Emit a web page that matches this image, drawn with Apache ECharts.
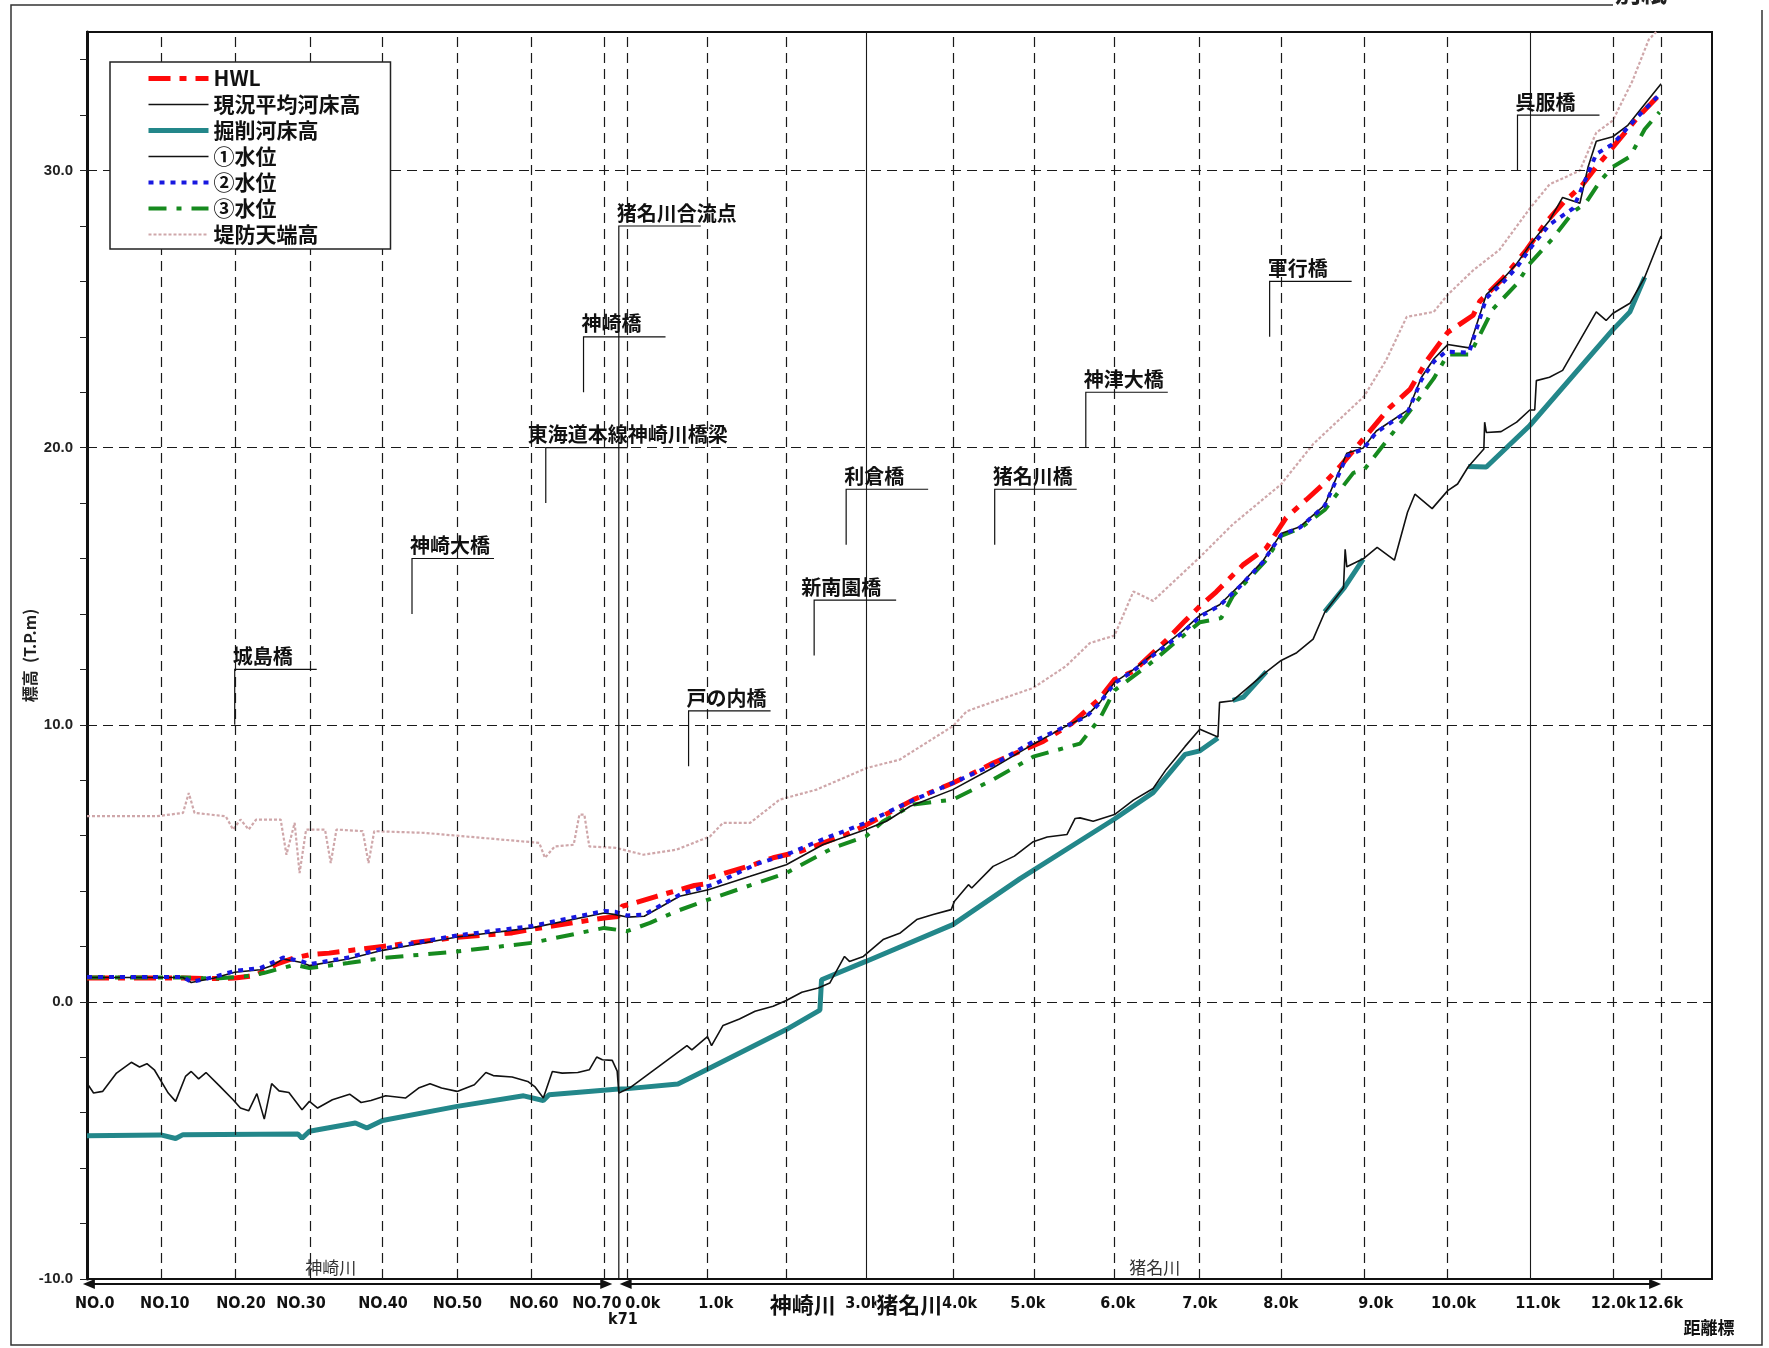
<!DOCTYPE html>
<html>
<head>
<meta charset="utf-8">
<script src="https://cdn.jsdelivr.net/npm/echarts@6/dist/echarts.min.js"></script>
<style>
  html, body { margin: 0; padding: 0; background: #fff; }
  #chart { width: 1769px; height: 1348px; }
</style>
</head>
<body>
<div id="chart"></div>
<script>
// Longitudinal profile: 神崎川 (NO.0–NO.70) joined to 猪名川 (0.0k–12.6k).
// The horizontal coordinate is a running plot distance (km) along the combined reach.

// ---- axis labels ----
const noLabels = ['NO.0', 'NO.10', 'NO.20', 'NO.30', 'NO.40', 'NO.50', 'NO.60', 'NO.70'];
const noLabelPos = [0.094, 0.948, 1.876, 2.607, 3.606, 4.513, 5.445, 6.213];
const kLabels = ['0.0k', '1.0k', '3.0k', '4.0k', '5.0k', '6.0k', '7.0k', '8.0k', '9.0k', '10.0k', '11.0k', '12.0k', '12.6k'];
const kLabelPos = [6.773, 7.662, 9.453, 10.631, 11.463, 12.559, 13.558, 14.545, 15.702, 16.652, 17.676, 18.597, 19.174];
const yLabelValues = [-10, 0, 10, 20, 30];
const yTickValues = [-10, -8, -6, -4, -2, 0, 2, 4, 6, 8, 10, 12, 14, 16, 18, 20, 22, 24, 26, 28, 30, 32, 34];

// ---- station grid lines ----
const stationDashed = [0.898, 1.808, 2.716, 3.605, 4.513, 5.409, 6.304, 6.583, 7.562, 8.521,
  10.547, 11.535, 12.523, 13.546, 14.550, 15.560, 16.584, 18.597, 19.183];
const stationSolid = [9.486, 17.587];
const levelGrid = [0, 10, 20, 30];

// ---- series (plot km, T.P.m) ----
const hwl = [[0.00,0.86],[1.17,0.86],[1.55,0.84],[1.80,0.86],[2.05,0.95],[2.30,1.35],[2.52,1.58],[2.71,1.70],[2.95,1.76],[3.60,2.00],[4.51,2.33],[5.18,2.49],[5.42,2.62],[6.30,3.03],[6.47,3.08],[6.52,3.45],[6.65,3.55],[6.94,3.81],[7.22,4.05],[7.40,4.20],[7.52,4.25],[7.57,4.47],[8.12,4.95],[8.36,5.20],[8.69,5.43],[9.25,6.04],[9.49,6.38],[10.07,7.30],[10.55,7.90],[10.72,8.14],[11.04,8.62],[11.65,9.40],[11.81,9.70],[12.00,10.05],[12.34,10.95],[12.52,11.63],[12.75,11.93],[13.15,13.05],[13.38,13.75],[13.56,14.28],[13.76,14.80],[14.09,15.78],[14.37,16.38],[14.61,17.47],[14.86,18.13],[15.06,18.67],[15.26,19.30],[15.59,20.45],[15.87,21.44],[16.12,22.10],[16.33,23.16],[16.58,24.16],[16.89,24.78],[16.97,25.28],[17.25,26.10],[17.54,27.14],[17.78,28.14],[18.00,28.88],[18.21,29.44],[18.39,30.13],[18.55,30.69],[18.88,31.87],[19.16,32.74]];

const bedNow = [[0.00,-2.93],[0.08,-3.29],[0.19,-3.23],[0.36,-2.57],[0.54,-2.18],[0.64,-2.35],[0.73,-2.23],[0.82,-2.45],[0.99,-3.29],[1.08,-3.59],[1.20,-2.69],[1.27,-2.51],[1.36,-2.78],[1.45,-2.55],[1.62,-3.05],[1.78,-3.53],[1.87,-3.83],[1.97,-3.93],[2.07,-3.31],[2.16,-4.23],[2.25,-2.95],[2.34,-3.21],[2.46,-3.27],[2.62,-3.89],[2.71,-3.59],[2.81,-3.83],[2.99,-3.53],[3.20,-3.33],[3.34,-3.63],[3.46,-3.56],[3.64,-3.39],[3.88,-3.47],[4.04,-3.11],[4.18,-2.95],[4.32,-3.11],[4.51,-3.23],[4.72,-2.99],[4.86,-2.55],[4.95,-2.66],[5.18,-2.71],[5.37,-2.87],[5.46,-3.07],[5.56,-3.47],[5.67,-2.51],[5.79,-2.57],[5.98,-2.55],[6.12,-2.45],[6.21,-1.99],[6.28,-2.09],[6.40,-2.11],[6.46,-2.50],[6.48,-3.29],[6.61,-3.11],[7.31,-1.58],[7.37,-1.73],[7.56,-1.25],[7.61,-1.58],[7.75,-0.85],[7.95,-0.62],[8.14,-0.34],[8.36,-0.16],[8.52,0.05],[8.71,0.35],[8.91,0.50],[9.05,0.68],[9.23,1.64],[9.29,1.46],[9.46,1.64],[9.70,2.25],[9.91,2.49],[10.11,2.97],[10.31,3.15],[10.53,3.33],[10.57,3.63],[10.74,4.23],[10.78,4.11],[11.04,4.89],[11.30,5.26],[11.53,5.78],[11.70,5.95],[11.94,6.04],[12.04,6.62],[12.10,6.64],[12.26,6.52],[12.52,6.76],[12.75,7.28],[12.99,7.70],[13.15,8.39],[13.38,9.22],[13.56,9.84],[13.78,9.56],[13.80,10.81],[13.96,10.87],[14.37,11.91],[14.55,12.32],[14.74,12.60],[14.94,13.09],[15.08,14.05],[15.31,14.95],[15.33,16.33],[15.35,15.70],[15.55,15.99],[15.72,16.40],[15.93,15.94],[16.09,17.67],[16.18,18.32],[16.39,17.80],[16.58,18.45],[16.70,18.69],[16.83,19.31],[17.02,19.95],[17.03,20.92],[17.05,20.55],[17.23,20.58],[17.42,20.92],[17.58,21.36],[17.64,21.36],[17.66,22.42],[17.82,22.54],[17.98,22.79],[18.39,24.90],[18.51,24.59],[18.59,24.84],[18.80,25.21],[18.98,26.15],[19.18,27.64]];

// excavation profile; null breaks the line where no excavation is planned
const bedPlan = [[0.00,-4.83],[0.90,-4.80],[1.08,-4.93],[1.17,-4.79],[2.57,-4.77],[2.62,-4.92],[2.71,-4.67],[3.27,-4.37],[3.41,-4.55],[3.60,-4.28],[4.51,-3.77],[5.32,-3.39],[5.56,-3.56],[5.63,-3.35],[6.44,-3.15],[6.59,-3.13],[7.20,-2.96],[7.56,-2.43],[8.52,-1.00],[8.93,-0.30],[8.95,0.80],[9.49,1.46],[10.55,2.79],[11.37,4.45],[12.52,6.60],[12.99,7.55],[13.38,8.93],[13.56,9.06],[13.78,9.52],[13.87,null],[13.96,10.88],[14.09,11.00],[14.37,11.92],[14.70,null],[15.08,14.08],[15.32,14.95],[15.55,15.98],[16.20,null],[16.83,19.32],[17.05,19.30],[17.58,20.80],[18.59,24.25],[18.80,24.90],[18.98,26.15]];

const wl1 = [[0.00,0.88],[1.17,0.88],[1.27,0.70],[1.55,0.86],[1.80,1.07],[2.11,1.16],[2.25,1.30],[2.39,1.55],[2.60,1.43],[2.71,1.31],[3.18,1.55],[3.60,1.86],[4.51,2.34],[5.42,2.67],[6.30,3.21],[6.44,3.15],[6.58,3.06],[6.79,3.09],[7.22,3.81],[7.57,4.05],[8.08,4.53],[8.52,4.95],[8.97,5.68],[9.49,6.22],[9.74,6.52],[10.03,7.06],[10.55,7.66],[11.04,8.45],[11.53,9.30],[11.93,9.95],[12.18,10.32],[12.34,10.80],[12.52,11.53],[12.75,11.99],[12.99,12.55],[13.34,13.36],[13.56,13.95],[13.80,14.33],[14.05,15.05],[14.33,15.92],[14.55,16.90],[14.78,17.15],[15.08,17.93],[15.18,18.61],[15.35,19.80],[15.55,19.99],[15.71,20.60],[16.10,21.37],[16.26,22.54],[16.41,23.20],[16.58,23.72],[16.84,23.60],[17.05,25.52],[17.25,26.08],[17.42,26.64],[17.60,27.39],[17.82,28.20],[17.98,29.03],[18.19,28.82],[18.29,30.13],[18.39,31.06],[18.59,31.22],[18.77,31.62],[19.18,33.13]];

const wl2 = [[0.00,0.90],[1.17,0.90],[1.27,0.72],[1.55,0.90],[1.80,1.12],[2.11,1.22],[2.39,1.60],[2.60,1.48],[2.71,1.36],[3.18,1.60],[3.60,1.92],[4.51,2.40],[5.42,2.74],[6.30,3.28],[6.44,3.25],[6.58,3.12],[6.79,3.15],[7.26,3.93],[7.63,4.23],[8.16,4.98],[8.52,5.31],[9.01,5.92],[9.49,6.46],[9.99,7.18],[10.55,7.90],[11.04,8.56],[11.53,9.40],[11.93,9.95],[12.18,10.30],[12.34,10.79],[12.52,11.50],[12.75,11.95],[12.99,12.50],[13.34,13.30],[13.56,13.90],[13.80,14.30],[14.05,15.00],[14.33,15.88],[14.55,16.85],[14.78,17.12],[15.08,17.90],[15.18,18.55],[15.35,19.70],[15.55,19.95],[15.71,20.55],[16.10,21.33],[16.26,22.45],[16.41,23.10],[16.56,23.47],[16.84,23.43],[17.05,25.40],[17.25,25.95],[17.42,26.50],[17.60,27.25],[17.82,28.05],[18.11,28.64],[18.29,29.90],[18.39,30.60],[18.59,30.95],[18.88,31.90],[19.16,32.74]];

const wl3 = [[0.00,0.88],[1.17,0.88],[1.55,0.84],[1.92,0.92],[2.15,1.04],[2.53,1.34],[2.71,1.22],[3.18,1.40],[3.60,1.58],[4.51,1.82],[5.42,2.13],[6.30,2.67],[6.58,2.55],[6.86,2.85],[7.18,3.27],[7.57,3.69],[8.52,4.65],[9.09,5.56],[9.49,5.97],[9.70,6.52],[10.07,7.12],[10.55,7.30],[11.04,8.02],[11.53,8.85],[12.10,9.32],[12.34,10.22],[12.52,11.24],[12.95,12.20],[13.35,13.20],[13.56,13.70],[13.82,13.85],[13.96,14.64],[14.37,15.95],[14.55,16.82],[14.78,17.09],[15.08,17.75],[15.43,19.09],[15.56,19.20],[16.10,21.25],[16.41,22.50],[16.58,23.36],[16.85,23.36],[17.13,25.00],[17.42,25.90],[17.58,26.64],[17.85,27.52],[18.11,28.51],[18.26,28.82],[18.44,29.63],[18.59,30.13],[18.80,30.50],[18.98,31.49],[19.16,32.11]];

const levee = [[0.00,6.70],[0.85,6.70],[1.17,6.82],[1.24,7.54],[1.31,6.82],[1.69,6.70],[1.78,6.22],[1.87,6.58],[1.97,6.22],[2.06,6.58],[2.36,6.58],[2.43,5.31],[2.53,6.46],[2.59,4.65],[2.67,6.22],[2.90,6.22],[2.97,5.01],[3.04,6.22],[3.36,6.16],[3.43,5.01],[3.50,6.16],[4.11,6.10],[5.04,5.86],[5.51,5.74],[5.58,5.20],[5.70,5.61],[5.93,5.67],[6.00,6.76],[6.06,6.76],[6.12,5.61],[6.44,5.56],[6.78,5.31],[7.18,5.49],[7.59,5.97],[7.75,6.46],[8.08,6.46],[8.44,7.30],[8.89,7.66],[9.50,8.44],[9.90,8.74],[10.55,9.95],[10.72,10.49],[11.12,10.91],[11.53,11.33],[11.93,12.12],[12.22,12.95],[12.52,13.22],[12.75,14.81],[12.99,14.47],[13.56,16.05],[13.96,17.23],[14.55,18.68],[14.94,20.13],[15.56,21.85],[15.83,23.16],[16.08,24.72],[16.41,24.90],[16.58,25.52],[16.89,26.40],[17.21,27.14],[17.58,28.63],[17.82,29.50],[18.19,30.00],[18.39,31.37],[18.59,31.80],[18.83,33.23],[19.03,34.73],[19.12,35.00]];

// ---- bridges and landmarks: name, plot km, leader level, leader foot ----
const bridgeNames = ['城島橋', '神崎大橋', '東海道本線神崎川橋梁', '神崎橋', '猪名川合流点', '戸の内橋', '新南園橋', '利倉橋', '猪名川橋', '神津大橋', '軍行橋', '呉服橋'];
const bridgeKm = [1.80, 3.96, 5.59, 6.05, 6.48, 7.33, 8.86, 9.25, 11.06, 12.17, 14.41, 17.43];
const bridgeLevel = [12.0, 16.0, 20.0, 24.0, 28.0, 10.5, 14.5, 18.5, 18.5, 22.0, 26.0, 32.0];
const bridgeFoot = [10.0, 14.0, 18.0, 22.0, -10.0, 8.5, 12.5, 16.5, 16.5, 20.0, 24.0, 30.0];

// ---- river spans drawn under the axis ----
const riverNames = ['神崎川', '猪名川'];
const riverFrom = [-0.05, 6.49];
const riverTo = [6.40, 19.18];
const riverTagAt = [2.97, 13.01];
const riverTitleAt = [8.72, 10.02];
const junctionLabel = 'k71';
const junctionAt = 6.53;

// ---------------------------------------------------------------
const JP = "'Noto Sans CJK JP','Noto Sans',sans-serif";
const NARROW = "'Liberation Sans Narrow','DejaVu Sans Condensed','Liberation Sans',sans-serif";
const LATIN = "'Liberation Sans','Arial',sans-serif";
const LEADER_LEN = 82;
const LABEL_NUDGE = { '東海道本線神崎川橋梁': -18, '新南園橋': -13 };

const xLabelPos = noLabelPos.concat(kLabelPos);
const xLabelText = noLabels.concat(kLabels);
function xLabelFor(v) {
  for (let i = 0; i < xLabelPos.length; i++) {
    if (Math.abs(xLabelPos[i] - v) < 1e-6) return xLabelText[i];
  }
  return '';
}

const gridDash = { type: [10, 6], color: '#1a1a1a', width: 1.2 };
const gridMarks = []
  .concat(stationDashed.map(v => ({ xAxis: v, lineStyle: gridDash })))
  .concat(stationSolid.map(v => ({ xAxis: v, lineStyle: { type: 'solid', color: '#1a1a1a', width: 1.1 } })))
  .concat(levelGrid.map(v => ({ yAxis: v, lineStyle: gridDash })));

function lineSeries(name, data, color, width, type, z) {
  return {
    type: 'line', name: name, data: data, z: z,
    symbol: 'none', showSymbol: false, connectNulls: false,
    lineStyle: { color: color, width: width, type: type },
    itemStyle: { color: color },
    emphasis: { disabled: true }, silent: true
  };
}

const legendNames = ['HWL', '現況平均河床高', '掘削河床高', '①水位', '②水位', '③水位', '堤防天端高'];

const option = {
  animation: false,
  backgroundColor: '#ffffff',
  grid: { left: 87, right: 57, top: 32, bottom: 69, show: true, borderColor: '#111', borderWidth: 2, backgroundColor: 'transparent' },
  legend: {
    data: legendNames, orient: 'vertical', left: 110, top: 62,
    padding: [6, 30, 4, 36], itemWidth: 60, itemHeight: 14, itemGap: 5,
    backgroundColor: '#ffffff', borderColor: '#222', borderWidth: 1.5,
    selectedMode: false, z: 20,
    itemStyle: { opacity: 0 },
    lineStyle: { width: 'inherit' },
    textStyle: { fontFamily: JP, fontSize: 21, fontWeight: 'bold', color: '#111' }
  },
  xAxis: {
    type: 'value', min: 0, max: 19.8,
    axisLine: { show: false, onZero: false },
    axisTick: { show: false },
    splitLine: { show: false },
    axisLabel: {
      customValues: xLabelPos, formatter: v => xLabelFor(v), margin: 17,
      fontFamily: NARROW, fontSize: 16, fontWeight: 'bold', color: '#111'
    }
  },
  yAxis: {
    type: 'value', min: -10, max: 35,
    name: '標高  (T.P.m)', nameLocation: 'middle', nameGap: 49, nameRotate: 90,
    nameMoveOverlap: false,
    nameTextStyle: { fontFamily: JP, fontSize: 16, fontWeight: 'bold', color: '#222' },
    axisLine: { show: true, onZero: false, lineStyle: { color: '#111', width: 3 } },
    axisTick: { show: true, customValues: yTickValues, length: 7, lineStyle: { color: '#222', width: 1 } },
    axisLabel: {
      customValues: yLabelValues, formatter: v => Number(v).toFixed(1), margin: 14,
      fontFamily: LATIN, fontSize: 15, fontWeight: 'bold', color: '#222'
    },
    splitLine: { show: false }
  },
  series: [
    {
      type: 'line', name: '_grid', data: [], z: 1, silent: true, symbol: 'none',
      markLine: { silent: true, symbol: ['none', 'none'], label: { show: false }, animation: false, data: gridMarks }
    },
    lineSeries('堤防天端高', levee, '#cfa7aa', 2.2, [3, 2], 2),
    lineSeries('掘削河床高', bedPlan, '#23878a', 5, 'solid', 3),
    lineSeries('現況平均河床高', bedNow, '#111111', 1.6, 'solid', 4),
    lineSeries('HWL', hwl, '#ff0a0a', 5, [22, 9, 7, 9], 5),
    lineSeries('③水位', wl3, '#168a1e', 4, [18, 10, 5, 10], 6),
    lineSeries('①水位', wl1, '#111111', 1.6, 'solid', 7),
    lineSeries('②水位', wl2, '#1818e0', 4, [5, 6], 8),
    {
      type: 'custom', name: '_bridges', z: 9, silent: true,
      data: bridgeKm.map((x, i) => [x, bridgeLevel[i], bridgeFoot[i]]),
      encode: { x: 0, y: 1 },
      renderItem: function (params, api) {
        const name = bridgeNames[params.dataIndex];
        const p = api.coord([api.value(0), api.value(1)]);
        const f = api.coord([api.value(0), api.value(2)]);
        return {
          type: 'group',
          children: [
            { type: 'polyline', shape: { points: [f, p, [p[0] + LEADER_LEN, p[1]]] },
              style: { stroke: '#111', lineWidth: 1.2, fill: 'none' } },
            { type: 'text', x: p[0] + (LABEL_NUDGE[name] || -2), y: p[1] - 3,
              style: { text: name, font: 'bold 20px ' + JP, fill: '#111', align: 'left', verticalAlign: 'bottom' } }
          ]
        };
      }
    }
  ]
};

const chart = echarts.init(document.getElementById('chart'), null, { renderer: 'canvas' });
chart.setOption(option);

// Decorations below the plot: river spans with arrows, river titles, page frame.
const px = (x, y) => chart.convertToPixel({ gridIndex: 0 }, [x, y]);
const baseY = px(0, -10)[1];
const arrowY = baseY + 5;
const graphics = [
  { type: 'rect', shape: { x: 11, y: 5, width: 1751, height: 1340 }, style: { fill: 'none', stroke: '#333', lineWidth: 1.5 }, z: 1 },
  { type: 'rect', shape: { x: 1613, y: 0, width: 156, height: 10 }, style: { fill: '#fff' }, z: 2 },
  { type: 'text', x: 1615, y: 5, style: { text: '別紙', font: 'bold 26px ' + JP, fill: '#222', align: 'left', verticalAlign: 'bottom' }, z: 3 },
  { type: 'text', x: 1709, y: 1328, style: { text: '距離標', font: 'bold 17px ' + JP, fill: '#111', align: 'center', verticalAlign: 'middle' }, z: 3 }
];
for (let i = 0; i < riverNames.length; i++) {
  const x0 = px(riverFrom[i], -10)[0];
  const x1 = px(riverTo[i], -10)[0];
  graphics.push({ type: 'line', shape: { x1: x0 + 4, y1: arrowY, x2: x1 - 4, y2: arrowY }, style: { stroke: '#111', lineWidth: 2.2 }, z: 3 });
  graphics.push({ type: 'polygon', shape: { points: [[x0, arrowY], [x0 + 12, arrowY - 5], [x0 + 12, arrowY + 5]] }, style: { fill: '#111' }, z: 3 });
  graphics.push({ type: 'polygon', shape: { points: [[x1, arrowY], [x1 - 12, arrowY - 5], [x1 - 12, arrowY + 5]] }, style: { fill: '#111' }, z: 3 });
  graphics.push({ type: 'text', x: px(riverTagAt[i], -10)[0], y: baseY - 3,
    style: { text: riverNames[i], font: '17px ' + JP, fill: '#333', align: 'center', verticalAlign: 'bottom' }, z: 3 });
  graphics.push({ type: 'text', x: px(riverTitleAt[i], -10)[0], y: baseY + 26,
    style: { text: riverNames[i], font: 'bold 22px ' + JP, fill: '#111', align: 'center', verticalAlign: 'middle',
      backgroundColor: '#fff' }, z: 4 });
}
graphics.push({ type: 'text', x: px(junctionAt, -10)[0], y: baseY + 41,
  style: { text: junctionLabel, font: 'bold 16px ' + NARROW, fill: '#111', align: 'center', verticalAlign: 'middle' }, z: 3 });
chart.setOption({ graphic: graphics });
</script>
</body>
</html>
